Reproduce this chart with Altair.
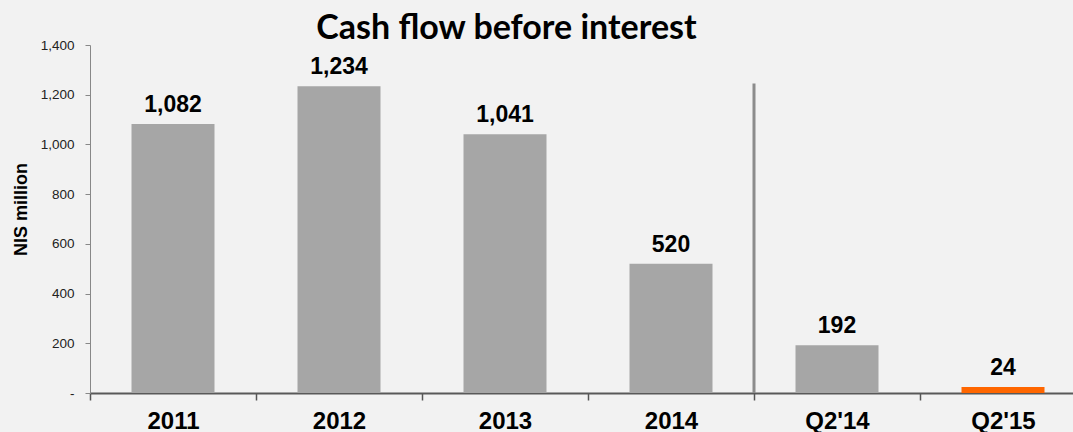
import altair as alt
import pandas as pd

# Cash flow before interest, NIS million
categories = ["2011", "2012", "2013", "2014", "Q2'14", "Q2'15"]
values = [1082, 1234, 1041, 520, 192, 24]
bar_colors = ["#a6a6a6", "#a6a6a6", "#a6a6a6", "#a6a6a6", "#a6a6a6", "#ff6600"]

# divider between the annual and the quarterly figures
divider_category = "Q2'14"
divider_top = 1245

df = pd.DataFrame({"period": categories, "value": values, "color": bar_colors})
df["label"] = [f"{v:,}" for v in values]
div_df = pd.DataFrame({"period": [divider_category], "y0": [0], "y1": [divider_top]})

num_font = "Liberation Sans"

x_scale = alt.Scale(domain=categories, range=[0, 996], paddingInner=0, paddingOuter=0)
y_scale = alt.Scale(domain=[0, 1400], nice=False)

x_enc = alt.X(
    "period:N",
    scale=x_scale,
    sort=categories,
    axis=alt.Axis(
        title=None,
        labelAngle=0,
        labelFont=num_font,
        labelFontSize=24,
        labelFontWeight="bold",
        labelColor="#000000",
        labelPadding=9,
        tickBand="extent",
        tickSize=7,
        tickWidth=1.5,
        tickColor="#555555",
        domainColor="#595959",
        domainWidth=2,
        grid=False,
    ),
)

bars = alt.Chart(df).mark_bar(width=alt.RelativeBandSize(0.5)).encode(
    x=x_enc,
    y=alt.Y(
        "value:Q",
        scale=y_scale,
        axis=alt.Axis(
            title="NIS million",
            titleFont=num_font,
            titleFontSize=18,
            titleFontWeight="bold",
            titleColor="#000000",
            titlePadding=10,
            titleY=164,
            values=[0, 200, 400, 600, 800, 1000, 1200, 1400],
            labelExpr="datum.value == 0 ? '-' : format(datum.value, ',')",
            labelFont=num_font,
            labelFontSize=13.5,
            labelColor="#222222",
            labelPadding=11,
            tickSize=5,
            tickColor="#888888",
            domainColor="#888888",
            grid=False,
        ),
    ),
    color=alt.Color("color:N", scale=None),
)

labels = alt.Chart(df).mark_text(
    font=num_font, fontSize=23, fontWeight="bold", color="#000000",
    baseline="alphabetic", dy=-12,
).encode(
    x=alt.X("period:N", scale=x_scale, sort=categories),
    y=alt.Y("value:Q", scale=y_scale),
    text="label:N",
)

divider = alt.Chart(div_df).mark_rule(color="#8c8c8c", strokeWidth=3).encode(
    x=alt.X("period:N", scale=x_scale, sort=categories, bandPosition=0),
    y=alt.Y("y0:Q", scale=y_scale),
    y2="y1:Q",
)

chart = alt.layer(bars, divider, labels).properties(
    width=983,
    height=348,
    background="#f2f2f2",
    padding={"left": 90, "top": 45, "right": 0, "bottom": 39},
    autosize=alt.AutoSizeParams(type="none"),
    title=alt.TitleParams(
        "Cash flow before interest",
        font="Lato",
        fontSize=34,
        fontWeight="bold",
        color="#000000",
        anchor="middle",
        frame="group",
        baseline="alphabetic",
        offset=0,
        dx=-75,
        dy=35,
    ),
).configure_view(stroke=None)

chart.save("out.html", embed_options={"renderer": "svg", "actions": False})
